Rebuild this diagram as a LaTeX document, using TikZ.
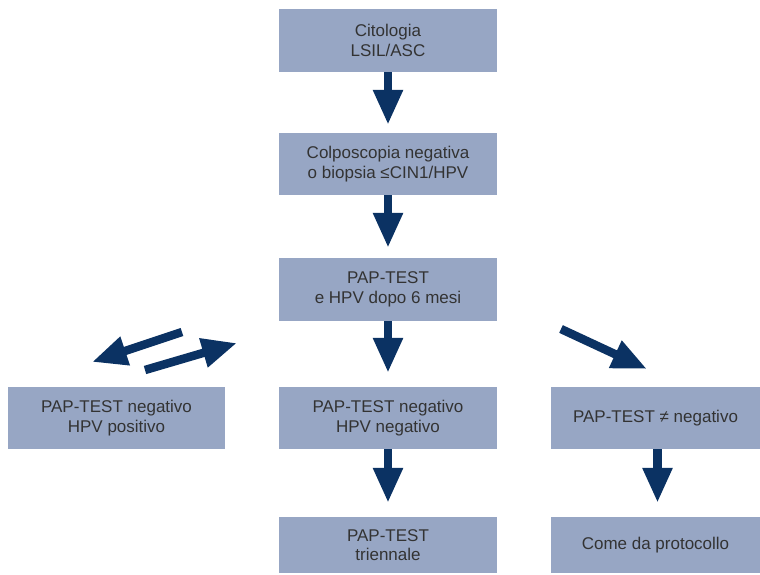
\documentclass[tikz,border=0pt]{standalone}
\usepackage{fontspec}
\setmainfont{Liberation Sans}
\usetikzlibrary{arrows.meta}
\definecolor{boxfill}{HTML}{97A6C4}
\definecolor{arrcol}{HTML}{0B3263}
\definecolor{txtcol}{HTML}{333333}
\tikzset{
  box/.style={rectangle, fill=boxfill, draw=none, inner sep=0pt, align=center,
    text=txtcol, font=\fontsize{17}{19.5}\selectfont},
  arr/.style={draw=arrcol, line width=8.5pt,
    -{Triangle[length=35pt,width=28pt,fill=arrcol]}}
}
\begin{document}
\begin{tikzpicture}[x=1pt,y=-1pt]
\useasboundingbox (0,0) rectangle (760,574);
\node[box, minimum width=218pt, minimum height=63pt] (b1) at (388,40.5) {Citologia\\LSIL/ASC};
\node[box, minimum width=218pt, minimum height=62pt] (b2) at (388,164) {Colposcopia negativa\\o biopsia ≤CIN1/HPV};
\node[box, minimum width=218pt, minimum height=63pt] (b3) at (388,289.5) {PAP-TEST\\e HPV dopo 6 mesi};
\node[box, minimum width=217pt, minimum height=62pt] (b4) at (116.5,418) {PAP-TEST negativo\\HPV positivo};
\node[box, minimum width=218pt, minimum height=62pt] (b5) at (388,418) {PAP-TEST negativo\\HPV negativo};
\node[box, minimum width=209pt, minimum height=62pt] (b6) at (655.5,418) {PAP-TEST ≠ negativo};
\node[box, minimum width=218pt, minimum height=56pt] (b7) at (388,545) {PAP-TEST\\triennale};
\node[box, minimum width=209pt, minimum height=56pt] (b8) at (655.5,545) {Come da protocollo};

\coordinate (la1) at (182,332);
\coordinate (la2) at (92,362);
\coordinate (ra1) at (145,370);
\coordinate (ra2) at (237,343);
\coordinate (da1) at (561,329);
\coordinate (da2) at (647,369);

\draw[arr] (b1.south) -- ([yshift=8pt]b2.north);
\draw[arr] (b2.south) -- ([yshift=10pt]b3.north);
\draw[arr] (b3.south) -- ([yshift=14pt]b5.north);
\draw[arr] (b5.south) -- ([yshift=14pt]b7.north);
\draw[arr] ([xshift=2pt]b6.south) -- ([xshift=2pt,yshift=14pt]b8.north);
\draw[arr] (la1) -- (la2);
\draw[arr] (ra1) -- (ra2);
\draw[arr] (da1) -- (da2);
\end{tikzpicture}
\end{document}
